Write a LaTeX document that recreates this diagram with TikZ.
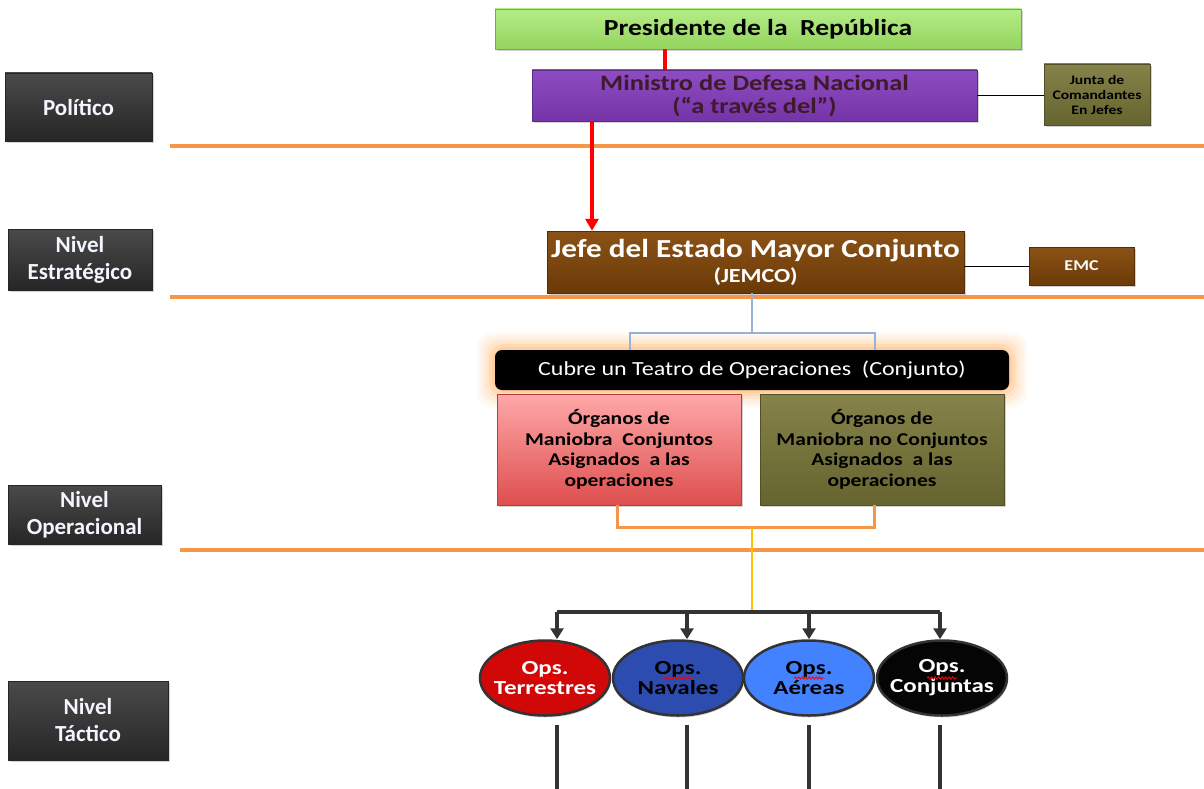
\documentclass[tikz,border=0pt]{standalone}
\usepackage{fontspec}
\setmainfont{Carlito}[FakeStretch=1.2]
\newfontfamily\plainfont{Carlito}
\newfontfamily\ellfont{Carlito}[FakeStretch=1.25]
\usetikzlibrary{shadows,arrows.meta,decorations.pathmorphing,calc,shapes.geometric}
\definecolor{orangeline}{HTML}{F79646}
\definecolor{greenA}{HTML}{B4EC86}
\definecolor{greenB}{HTML}{94D45E}
\definecolor{purpA}{HTML}{8E4CC2}
\definecolor{purpB}{HTML}{7434A6}
\definecolor{mintext}{HTML}{3E1A2C}
\definecolor{oliveA}{HTML}{85834A}
\definecolor{oliveB}{HTML}{66642F}
\definecolor{brownA}{HTML}{8A5216}
\definecolor{brownB}{HTML}{6C3A08}
\definecolor{darkA}{HTML}{4A4A4A}
\definecolor{darkB}{HTML}{262626}
\definecolor{pinkA}{HTML}{FFA8A8}
\definecolor{pinkB}{HTML}{DE4E4E}
\definecolor{blueline}{HTML}{95B3D7}
\definecolor{yellowline}{HTML}{FFC000}
\definecolor{busgray}{HTML}{333333}
\definecolor{eRed}{HTML}{D00808}
\definecolor{eNavy}{HTML}{2C4CB0}
\definecolor{eBlue}{HTML}{4282FF}
\definecolor{eBlack}{HTML}{050505}
\definecolor{labtext}{HTML}{F4F6FF}
\begin{document}
\begin{tikzpicture}[x=1pt,y=-1pt,
  box/.style={rectangle, inner sep=0pt, align=center,
    drop shadow={shadow xshift=1.5pt, shadow yshift=-2pt, opacity=0.35}},
  levelbox/.style={box, top color=darkA, bottom color=darkB, draw=darkB,
    text=labtext, font={\plainfont\fontsize{23}{27}\selectfont\bfseries}},
  hline/.style={draw=orangeline, line width=3.5pt},
  opsell/.style={ellipse, minimum width=130pt, minimum height=75pt, inner sep=0pt,
    draw=busgray, line width=2.5pt,
    drop shadow={shadow xshift=1pt, shadow yshift=-2pt, opacity=0.3}},
  opstext/.style={align=center, inner sep=0pt, font={\ellfont\fontsize{20}{20}\selectfont\bfseries}},
  busarrow/.style={draw=busgray, line width=3.5pt, -{Triangle[width=13pt,length=11pt]}},
  leg/.style={draw=busgray, line width=3.5pt},
  wavy/.style={draw=red, line width=0.9pt, decorate,
    decoration={snake, amplitude=1.1pt, segment length=3.5pt}}
]
\useasboundingbox (0,0) rectangle (1204,789);

% level labels
\node[levelbox, minimum width=147pt, minimum height=68pt] (pol) at (78.5,107) {Político};
\node[levelbox, minimum width=144pt, minimum height=61pt] (est) at (80,259.5) {Nivel\\Estratégico};
\node[levelbox, minimum width=153pt, minimum height=59pt] (oper) at (84.5,514.5) {Nivel\\Operacional};
\node[levelbox, minimum width=160pt, minimum height=79pt] (tac) at (88,720.5) {Nivel\\Táctico};

% orange level separators
\coordinate (s1a) at (170,146); \coordinate (s1b) at (1204,146);
\coordinate (s2a) at (170,297); \coordinate (s2b) at (1204,297);
\coordinate (s3a) at (180,550); \coordinate (s3b) at (1204,550);
\draw[hline] (s1a) -- (s1b);
\draw[hline] (s2a) -- (s2b);
\draw[hline] (s3a) -- (s3b);

% political level
\node[box, minimum width=526pt, minimum height=40pt, top color=greenA, bottom color=greenB,
  draw=greenB!80!black, font={\fontsize{23}{25}\selectfont\bfseries}] (pres) at (758,29)
  {Presidente de la \ República};
\node[box, minimum width=445pt, minimum height=51pt, top color=purpA, bottom color=purpB,
  draw=purpB!80!black, text=mintext, font={\fontsize{22}{23}\selectfont\bfseries}] (min) at (754.5,95.5)
  {Ministro de Defesa Nacional\\(“a través del”)};
\node[box, minimum width=106pt, minimum height=61pt, top color=oliveA, bottom color=oliveB,
  draw=oliveB!80!black, font={\fontsize{13}{15}\selectfont\bfseries}] (junta) at (1097,94.5)
  {Junta de\\Comandantes\\En Jefes};

\coordinate (x665) at (665,0);
\coordinate (x592) at (592,0);
\draw[red, line width=3.5pt] (x665 |- pres.south) -- (x665 |- min.north);
\draw[black, line width=1pt] (min.east) -- (min.east -| junta.west);

% strategic level
\node[box, minimum width=417pt, minimum height=62pt, top color=brownA, bottom color=brownB,
  draw=brownB!80!black, text=white, font={\fontsize{26}{25}\selectfont\bfseries}] (jefe) at (755.5,262)
  {Jefe del Estado Mayor Conjunto\\{\fontsize{20}{22}\selectfont (JEMCO)}};
\node[box, minimum width=105pt, minimum height=38pt, top color=brownA, bottom color=brownB,
  draw=brownB!80!black, text=white, font={\fontsize{15}{16}\selectfont\bfseries}] (emc) at (1081.5,266) {EMC};
\draw[red, line width=3.5pt, -{Triangle[width=13pt,length=12pt]}] (x592 |- min.south) -- (x592 |- jefe.north);
\draw[black, line width=1pt] (emc.west -| jefe.east) -- (emc.west);

% operational level
\foreach \i/\op in {18/0.04,15/0.05,12/0.06,9/0.08,6/0.1,3/0.13}{
  \fill[orange, opacity=\op, rounded corners=14pt] (495-\i,350-\i) rectangle (1009+\i,390+\i);
}
\node[rectangle, rounded corners=7pt, fill=black, text=white, minimum width=514pt, minimum height=40pt,
  inner sep=0pt, font={\fontsize{20}{22}\selectfont}] (cubre) at (752,370)
  {Cubre un Teatro de Operaciones \ (Conjunto)};
\coordinate (x752) at (752,0);
\coordinate (bl) at (630,333); \coordinate (br) at (875,333);
\draw[blueline, line width=2.5pt] (x752 |- jefe.south) -- (x752 |- bl);
\draw[blueline, line width=2.5pt] (bl |- cubre.north) -- (bl) -- (br) -- (br |- cubre.north);

\node[box, minimum width=244pt, minimum height=111pt, top color=pinkA, bottom color=pinkB,
  draw=pinkB!80!black, font={\fontsize{18}{20.5}\selectfont\bfseries}] (org1) at (619,449.5)
  {Órganos de\\Maniobra \ Conjuntos\\Asignados \ a las\\operaciones};
\node[box, minimum width=244pt, minimum height=111pt, top color=oliveA, bottom color=oliveB,
  draw=oliveB!80!black, font={\fontsize{18}{20.5}\selectfont\bfseries}] (org2) at (882,449.5)
  {Órganos de\\Maniobra no Conjuntos\\Asignados \ a las\\operaciones};

\coordinate (ol) at (617,527); \coordinate (or) at (874,527);
\draw[orangeline, line width=3pt] (ol |- org1.south) -- (ol) -- (or) -- (or |- org2.south);

% tactical level
\coordinate (yb) at (752,612);
\draw[yellowline, line width=2.5pt] (x752 |- ol) -- (yb);

\node[opsell, fill=eRed, label={[opstext, text=white]center:Ops.\\Terrestres}] (e1) at (545,678) {};
\node[opsell, fill=eNavy, label={[opstext, text=black]center:Ops.\\Navales}] (e2) at (678,678) {};
\node[opsell, fill=eBlue, label={[opstext, text=black]center:Ops.\\Aéreas}] (e3) at (809,678) {};
\node[opsell, fill=eBlack, label={[opstext, text=white]center:Ops.\\Conjuntas}] (e4) at (942,678) {};

\coordinate (b1) at (557,612); \coordinate (b2) at (687,612);
\coordinate (b3) at (809,612); \coordinate (b4) at (940,612);
\draw[leg] (b1) -- (b4);
\draw[busarrow] (b1) -- (b1 |- e1.north);
\draw[busarrow] (b2) -- (b2 |- e2.north);
\draw[busarrow] (b3) -- (b3 |- e3.north);
\draw[busarrow] (b4) -- (b4 |- e4.north);

\foreach \e in {e1,e2,e3,e4}{
  \draw[wavy] ($(\e.center)+(-15,0)$) -- ($(\e.center)+(15,0)$);
}

\coordinate (t1) at (557,725); \coordinate (u1) at (557,789);
\coordinate (t2) at (687,725); \coordinate (u2) at (687,789);
\coordinate (t3) at (809,725); \coordinate (u3) at (809,789);
\coordinate (t4) at (940,725); \coordinate (u4) at (940,789);
\draw[leg] (t1) -- (u1);
\draw[leg] (t2) -- (u2);
\draw[leg] (t3) -- (u3);
\draw[leg] (t4) -- (u4);
\end{tikzpicture}
\end{document}
